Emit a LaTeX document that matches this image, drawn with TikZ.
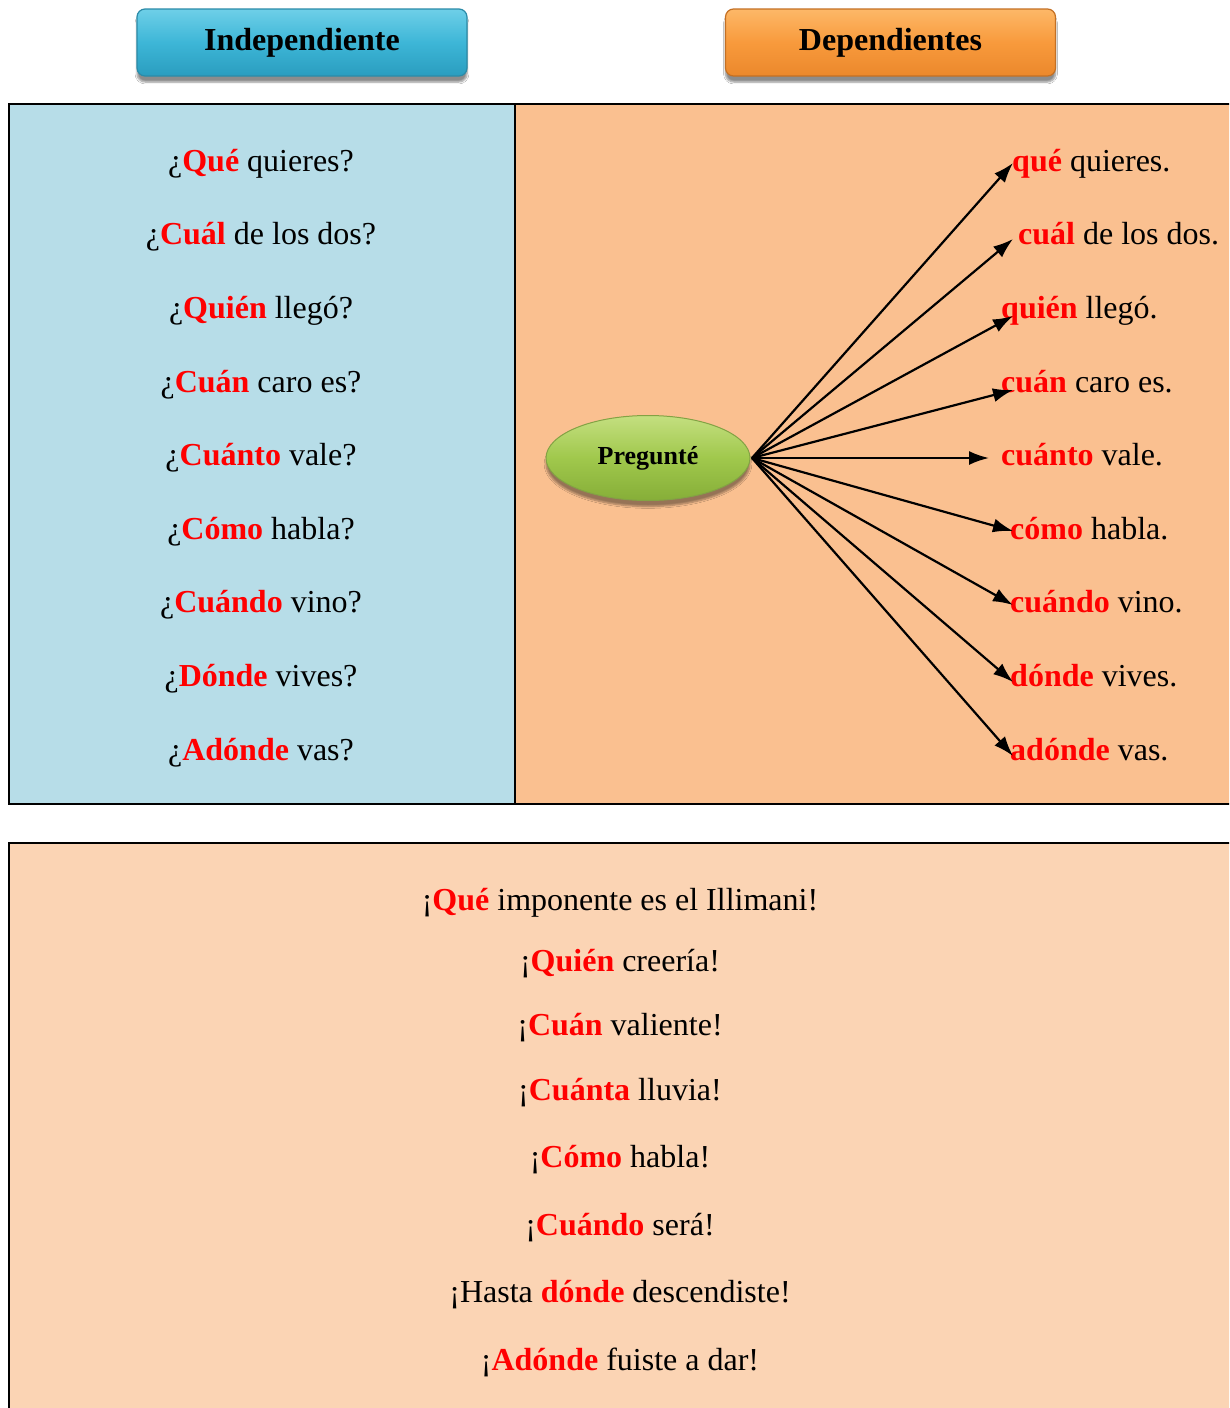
\documentclass[tikz,border=0pt]{standalone}
\usepackage{fontspec}
\setmainfont{Liberation Serif}
\usetikzlibrary{shapes.geometric,arrows.meta,shadows.blur}
\definecolor{panelblue}{HTML}{B7DDE8}
\definecolor{panelorange}{HTML}{FAC090}
\definecolor{panellight}{HTML}{FBD4B4}
\definecolor{wred}{HTML}{FF0000}
\definecolor{btop}{HTML}{6ECFE8}
\definecolor{bmid}{HTML}{3DB6D7}
\definecolor{bbot}{HTML}{2A9DBF}
\definecolor{bbor}{HTML}{2B8BA8}
\definecolor{otop}{HTML}{FDB868}
\definecolor{omid}{HTML}{F89A3C}
\definecolor{obot}{HTML}{EB882C}
\definecolor{obor}{HTML}{C47024}
\definecolor{gtop}{HTML}{C4DF80}
\definecolor{gmid}{HTML}{A0C84C}
\definecolor{gbot}{HTML}{86AE38}
\definecolor{gbor}{HTML}{83A244}
\newcommand\rw[1]{\textcolor{wred}{\textbf{#1}}}
\tikzset{
  q/.style={font=\fontsize{32}{38}\selectfont, inner sep=0pt, anchor=base},
  rq/.style={q, anchor=base west},
  arr/.style={line width=2.2pt, -{Latex[length=20pt,width=14pt]}},
  btn/.style={rounded corners=8pt, minimum width=330pt, minimum height=67pt, inner sep=0pt,
    line width=1.2pt, font=\fontsize{32}{38}\selectfont\bfseries,
    blur shadow={shadow xshift=0pt, shadow yshift=-6pt, shadow blur steps=6, shadow opacity=45}},
  bluebtn/.style={btn, draw=bbor, top color=btop, bottom color=bbot, middle color=bmid},
  orangebtn/.style={btn, draw=obor, top color=otop, bottom color=obot, middle color=omid},
  panel/.style={line width=2.5pt, draw=black},
}
\begin{document}
\begin{tikzpicture}[x=1pt,y=-1pt]
\useasboundingbox (0,0) rectangle (1229,1408);
\clip (0,0) rectangle (1229,1408);
\fill[white] (0,0) rectangle (1229,1408);

% panels
\filldraw[panel, fill=panelblue] (9,104) rectangle (515,804);
\filldraw[panel, fill=panelorange] (515,104) rectangle (1245,804);
\filldraw[panel, fill=panellight] (9,843) rectangle (1245,1425);

% header buttons
\node[bluebtn] (hind) at (302,42.5) {Independiente};
\node[orangebtn] (hdep) at (890.5,42.5) {Dependientes};

% left column
\node[q] (l1) at (261,171) {¿\rw{Qué} quieres?};
\node[q] (l2) at (261,244) {¿\rw{Cuál} de los dos?};
\node[q] (l3) at (261,318) {¿\rw{Quién} llegó?};
\node[q] (l4) at (261,392) {¿\rw{Cuán} caro es?};
\node[q] (l5) at (261,465) {¿\rw{Cuánto} vale?};
\node[q] (l6) at (261,539) {¿\rw{Cómo} habla?};
\node[q] (l7) at (261,612) {¿\rw{Cuándo} vino?};
\node[q] (l8) at (261,686) {¿\rw{Dónde} vives?};
\node[q] (l9) at (261,760) {¿\rw{Adónde} vas?};

% center ellipse
\node[ellipse, minimum width=204pt, minimum height=85pt, inner sep=0pt,
  draw=gbor, line width=1pt,
  top color=gtop, bottom color=gbot, middle color=gmid,
  blur shadow={shadow xshift=0pt, shadow yshift=-6pt, shadow blur steps=6, shadow opacity=40},
  font=\fontsize{26}{30}\selectfont\bfseries] (preg) at (648,458) {Pregunté};

% right column
\node[rq] (r1) at (1012,171) {\rw{qué} quieres.};
\node[rq] (r2) at (1018,244) {\rw{cuál} de los dos.};
\node[rq] (r3) at (1001,318) {\rw{quién} llegó.};
\node[rq] (r4) at (1001,392) {\rw{cuán} caro es.};
\node[rq] (r5) at (1001,465) {\rw{cuánto} vale.};
\node[rq] (r6) at (1010,539) {\rw{cómo} habla.};
\node[rq] (r7) at (1010,612) {\rw{cuándo} vino.};
\node[rq] (r8) at (1010,686) {\rw{dónde} vives.};
\node[rq] (r9) at (1010,760) {\rw{adónde} vas.};

% arrow tips
\coordinate (t1) at (1013,163);
\coordinate (t2) at (1013,239);
\coordinate (t3) at (1013,316);
\coordinate (t4) at (1013,390);
\coordinate (t5) at (989,458);
\coordinate (t6) at (1013,531);
\coordinate (t7) at (1013,605);
\coordinate (t8) at (1013,682);
\coordinate (t9) at (1013,756);
\coordinate (src) at (752,458);
\foreach \i in {1,...,9} \draw[arr] (src) -- (t\i);

% bottom box
\node[q] (b1) at (620,910) {¡\rw{Qué} imponente es el Illimani!};
\node[q] (b2) at (620,971) {¡\rw{Quién} creería!};
\node[q] (b3) at (620,1035) {¡\rw{Cuán} valiente!};
\node[q] (b4) at (620,1100) {¡\rw{Cuánta} lluvia!};
\node[q] (b5) at (620,1167) {¡\rw{Cómo} habla!};
\node[q] (b6) at (620,1235) {¡\rw{Cuándo} será!};
\node[q] (b7) at (620,1302) {¡Hasta \rw{dónde} descendiste!};
\node[q] (b8) at (620,1370) {¡\rw{Adónde} fuiste a dar!};
\end{tikzpicture}
\end{document}
